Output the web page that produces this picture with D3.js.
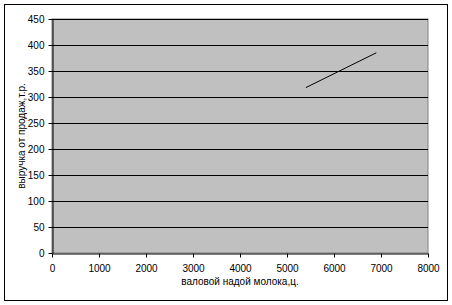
<!DOCTYPE html>
<html lang="ru">
<head>
<meta charset="utf-8"/>
<script src="https://d3js.org/d3.v7.min.js"></script>
<style>
  body { margin: 0; background: #fff; }
  text { font-family: "Liberation Sans", Arial, sans-serif; font-size: 10px; fill: #000; }
</style>
</head>
<body>
<div id="chart"></div>
<script>
// values
var milkYield = [5400, 6900];   // валовой надой молока, ц.
var revenue = [318, 385];       // выручка от продаж, т.р.
var xTicks = [0, 1000, 2000, 3000, 4000, 5000, 6000, 7000, 8000];
var yTicks = [0, 50, 100, 150, 200, 250, 300, 350, 400, 450];
var xTitle = "валовой надой молока,ц.";
var yTitle = "выручка от продаж,т.р.";

var W = 452, H = 305;
var margin = {top: 19, right: 24, bottom: 52, left: 52};
var width = W - margin.left - margin.right;
var height = H - margin.top - margin.bottom;

var svg = d3.select("#chart").append("svg")
    .attr("width", W)
    .attr("height", H);

// outer chart frame
svg.append("rect")
    .attr("x", 4.5).attr("y", 4.5)
    .attr("width", 443).attr("height", 296)
    .attr("fill", "#fff")
    .attr("stroke", "#000");

var g = svg.append("g")
    .attr("transform", "translate(" + margin.left + "," + margin.top + ")");

var x = d3.scaleLinear().domain([0, 8000]).range([0, width]);
var y = d3.scaleLinear().domain([0, 450]).range([height, 0]);

g.append("rect")
    .attr("x", 0).attr("y", 0)
    .attr("width", width).attr("height", height)
    .attr("fill", "#c0c0c0")
    .attr("stroke", "#808080");

// gridlines
g.selectAll(".grid")
    .data(yTicks.slice(1))
    .enter().append("line")
    .attr("x1", 0).attr("x2", width)
    .attr("y1", function (d) { return Math.round(y(d)) + 0.5; })
    .attr("y2", function (d) { return Math.round(y(d)) + 0.5; })
    .attr("stroke", "#000");

var xAxis = g.append("g")
    .attr("transform", "translate(0," + (height + 0.5) + ")")
    .call(d3.axisBottom(x).tickValues(xTicks).tickSize(4).tickSizeOuter(0).tickFormat(d3.format("d")));

var yAxis = g.append("g")
    .attr("transform", "translate(0.5,0)")
    .call(d3.axisLeft(y).tickValues(yTicks).tickSize(4).tickSizeOuter(0).tickFormat(d3.format("d")));

[xAxis, yAxis].forEach(function (a) {
    a.selectAll("path, line").attr("stroke", "#000");
    a.selectAll("text").style("font-family", "'Liberation Sans', Arial, sans-serif").style("font-size", "10px");
});
xAxis.selectAll("text").attr("dy", "1.15em");
yAxis.selectAll("text").attr("x", -8);

var line = d3.line()
    .x(function (d, i) { return x(milkYield[i]); })
    .y(function (d) { return y(d); });

g.append("path")
    .datum(revenue)
    .attr("d", line)
    .attr("fill", "none")
    .attr("stroke", "#000")
    .attr("stroke-width", 1);

g.append("text")
    .attr("x", width / 2)
    .attr("y", height + 32)
    .attr("text-anchor", "middle")
    .text(xTitle);

g.append("text")
    .attr("transform", "translate(" + (-27) + "," + (height / 2) + ") rotate(-90)")
    .attr("text-anchor", "middle")
    .text(yTitle);
</script>
</body>
</html>
